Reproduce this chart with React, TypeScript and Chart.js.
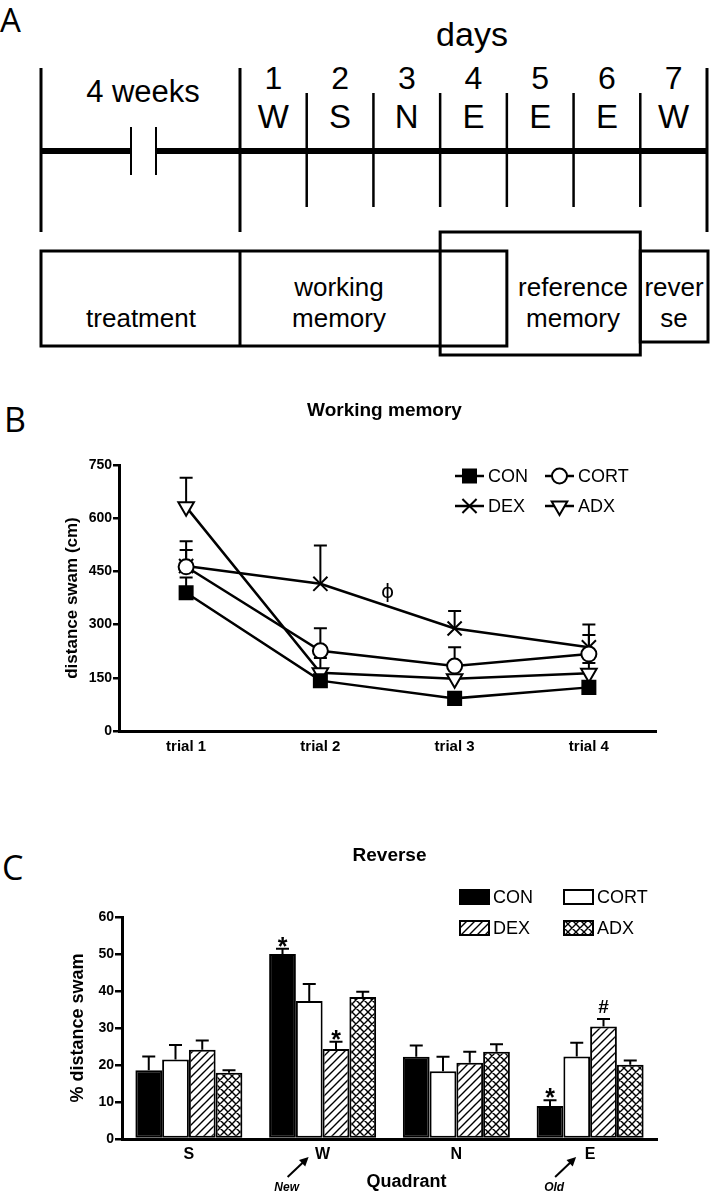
import React, { useEffect, useRef } from 'react';
import { Chart, registerables } from 'chart.js';
import { drawPoint } from 'chart.js/helpers';

Chart.register(...registerables);

// ---------- Panel A (protocol timeline) ----------
const dayNumbers = ['1', '2', '3', '4', '5', '6', '7'];
const dayQuadrants = ['W', 'S', 'N', 'E', 'E', 'E', 'W'];

// ---------- Panel B (working memory) ----------
const trials = ['trial 1', 'trial 2', 'trial 3', 'trial 4'];
const groups = ['CON', 'CORT', 'DEX', 'ADX'];
const wmCON = [390, 142, 92, 123];
const wmCONerr = [43, 12, 8, 12];
const wmCORT = [463, 226, 183, 217];
const wmCORTerr = [47, 64, 53, 54];
const wmDEX = [465, 415, 289, 236];
const wmDEXerr = [70, 108, 49, 64];
const wmADX = [632, 164, 147, 163];
const wmADXerr = [82, 42, 31, 29];
const wmYTicks = [0, 150, 300, 450, 600, 750];
const wmMarkText = ['ϕ'];
const wmMarkX = [1.5];
const wmMarkY = [389];

// ---------- Panel C (reverse) ----------
const quadrants = ['S', 'W', 'N', 'E'];
const revCON = [18.6, 50.0, 22.2, 8.9];
const revCONerr = [3.7, 1.4, 3.1, 1.6];
const revCORT = [21.5, 37.3, 18.3, 22.3];
const revCORTerr = [3.9, 4.6, 3.9, 3.7];
const revDEX = [24.1, 24.3, 20.6, 30.4];
const revDEXerr = [2.5, 2.0, 3.0, 2.0];
const revADX = [17.9, 38.4, 23.6, 20.1];
const revADXerr = [0.7, 1.4, 2.0, 1.1];
const revYTicks = [0, 10, 20, 30, 40, 50, 60];
const revMarkSeries = [0, 2, 0, 2];
const revMarkCats = [1, 1, 3, 3];
const revMarkText = ['*', '*', '*', '#'];
const revArrowText = ['', 'New', '', 'Old'];

const FONT = '"Liberation Sans", Arial, Helvetica, sans-serif';
const LETTER_FONT = '"Open Sans", "Noto Sans", sans-serif';

function makeHatch(cross: boolean): CanvasPattern {
  const s = 8;
  const c = document.createElement('canvas');
  c.width = s;
  c.height = s;
  const g = c.getContext('2d')!;
  g.fillStyle = '#fff';
  g.fillRect(0, 0, s, s);
  g.strokeStyle = '#000';
  g.lineWidth = 1.4;
  g.beginPath();
  g.moveTo(-1, s + 1);
  g.lineTo(s + 1, -1);
  g.moveTo(-1, 1);
  g.lineTo(1, -1);
  g.moveTo(s - 1, s + 1);
  g.lineTo(s + 1, s - 1);
  if (cross) {
    g.moveTo(-1, -1);
    g.lineTo(s + 1, s + 1);
    g.moveTo(s - 1, -1);
    g.lineTo(s + 1, 1);
    g.moveTo(-1, s - 1);
    g.lineTo(1, s + 1);
  }
  g.stroke();
  return g.createPattern(c, 'repeat')!;
}

const errorBarPlugin = {
  id: 'errorBars',
  beforeDatasetsDraw(chart: any, _a: any, opts: any) {
    if (opts.phase === 'before') drawErrors(chart, opts);
  },
  afterDatasetsDraw(chart: any, _a: any, opts: any) {
    if (opts.phase === 'after') drawErrors(chart, opts);
  },
};

function drawErrors(chart: any, opts: any) {
  const ctx = chart.ctx;
  const y = chart.scales.y;
  chart.data.datasets.forEach((ds: any, i: number) => {
    const errs: number[] = ds.errors;
    if (!errs) return;
    const meta = chart.getDatasetMeta(i);
    meta.data.forEach((el: any, j: number) => {
      const v = ds.data[j];
      const base = y.getPixelForValue(v);
      const top = y.getPixelForValue(v + errs[j]);
      ctx.save();
      ctx.strokeStyle = '#000';
      ctx.lineWidth = opts.width || 2;
      ctx.beginPath();
      ctx.moveTo(el.x, base);
      ctx.lineTo(el.x, top);
      ctx.moveTo(el.x - opts.cap, top);
      ctx.lineTo(el.x + opts.cap, top);
      ctx.stroke();
      ctx.restore();
    });
  });
}

const wmExtras = {
  id: 'wmExtras',
  afterDraw(chart: any) {
    const ctx = chart.ctx;
    const a = chart.chartArea;
    const xs = chart.scales.x;
    const ys = chart.scales.y;
    ctx.save();
    // title
    ctx.fillStyle = '#000';
    ctx.font = `bold 19px ${FONT}`;
    ctx.textAlign = 'center';
    ctx.textBaseline = 'alphabetic';
    ctx.fillText('Working memory', (a.left + a.right) / 2 - 3, a.top - 49);
    // phi annotation
    ctx.font = `20px "DejaVu Sans", sans-serif`;
    ctx.textBaseline = 'middle';
    wmMarkText.forEach((t, i) => {
      ctx.fillText(t, xs.getPixelForValue(wmMarkX[i]), ys.getPixelForValue(wmMarkY[i]));
    });
    // legend
    chart.data.datasets.forEach((ds: any, i: number) => {
      const col = i % 2;
      const row = Math.floor(i / 2);
      const x0 = a.right - 201 + col * 90;
      const yy = a.top + 11 + row * 30;
      ctx.strokeStyle = '#000';
      ctx.lineWidth = 2.5;
      ctx.beginPath();
      ctx.moveTo(x0, yy);
      ctx.lineTo(x0 + 29, yy);
      ctx.stroke();
      ctx.fillStyle = ds.pointBackgroundColor;
      ctx.lineWidth = 2;
      drawPoint(ctx, { pointStyle: ds.pointStyle, radius: ds.pointRadius, rotation: ds.pointRotation || 0, borderWidth: 2 } as any, x0 + 14.5, yy);
      ctx.fillStyle = '#000';
      ctx.font = `18px ${FONT}`;
      ctx.textAlign = 'left';
      ctx.textBaseline = 'middle';
      ctx.fillText(ds.label, x0 + 33, yy + 1);
    });
    ctx.restore();
  },
};

const revExtras = {
  id: 'revExtras',
  afterDraw(chart: any) {
    const ctx = chart.ctx;
    const a = chart.chartArea;
    const xs = chart.scales.x;
    const ys = chart.scales.y;
    ctx.save();
    ctx.fillStyle = '#000';
    ctx.font = `bold 19px ${FONT}`;
    ctx.textAlign = 'center';
    ctx.textBaseline = 'alphabetic';
    ctx.fillText('Reverse', (a.left + a.right) / 2, a.top - 56);
    // significance marks
    revMarkText.forEach((t, k) => {
      const ds: any = chart.data.datasets[revMarkSeries[k]];
      const el: any = chart.getDatasetMeta(revMarkSeries[k]).data[revMarkCats[k]];
      const c = revMarkCats[k];
      const topPx = ys.getPixelForValue(ds.data[c] + ds.errors[c]);
      if (t === '*') {
        ctx.font = `bold 25px ${FONT}`;
        ctx.fillText(t, el.x, topPx + 6);
      } else {
        ctx.font = `bold 19px ${FONT}`;
        ctx.fillText(t, el.x, topPx - 6);
      }
    });
    // x axis title
    ctx.font = `bold 18px ${FONT}`;
    ctx.textBaseline = 'middle';
    ctx.fillText('Quadrant', (a.left + a.right) / 2 + 17, a.bottom + 43);
    // New / Old arrows
    revArrowText.forEach((t, i) => {
      if (!t) return;
      const cx = xs.getPixelForValue(i);
      ctx.font = `italic bold 12px ${FONT}`;
      ctx.textBaseline = 'middle';
      ctx.fillText(t, cx - 36, a.bottom + 49);
      const x1 = cx - 35, y1 = a.bottom + 38, x2 = cx - 14, y2 = a.bottom + 18;
      const ang = Math.atan2(y2 - y1, x2 - x1);
      ctx.strokeStyle = '#000';
      ctx.lineWidth = 2;
      ctx.beginPath();
      ctx.moveTo(x1, y1);
      ctx.lineTo(x2 - 5 * Math.cos(ang), y2 - 5 * Math.sin(ang));
      ctx.stroke();
      ctx.beginPath();
      ctx.moveTo(x2, y2);
      ctx.lineTo(x2 - 9 * Math.cos(ang) + 4.5 * Math.sin(ang), y2 - 9 * Math.sin(ang) - 4.5 * Math.cos(ang));
      ctx.lineTo(x2 - 9 * Math.cos(ang) - 4.5 * Math.sin(ang), y2 - 9 * Math.sin(ang) + 4.5 * Math.cos(ang));
      ctx.closePath();
      ctx.fill();
    });
    // legend
    chart.data.datasets.forEach((ds: any, i: number) => {
      const col = i % 2;
      const row = Math.floor(i / 2);
      const x0 = a.right - 197 + col * 104;
      const yy = a.top - 20 + row * 31;
      ctx.fillStyle = ds.backgroundColor;
      ctx.fillRect(x0, yy - 7, 29, 14);
      ctx.strokeStyle = '#000';
      ctx.lineWidth = 2;
      ctx.strokeRect(x0, yy - 7, 29, 14);
      ctx.fillStyle = '#000';
      ctx.font = `18px ${FONT}`;
      ctx.textAlign = 'left';
      ctx.textBaseline = 'middle';
      ctx.fillText(ds.label, x0 + 33, yy + 1);
      ctx.textAlign = 'center';
    });
    ctx.restore();
  },
};

const tickFont = { family: FONT, size: 14, weight: 'bold' as const };

export default function App() {
  const bRef = useRef<HTMLCanvasElement>(null);
  const cRef = useRef<HTMLCanvasElement>(null);

  useEffect(() => {
    const pointBase = { borderColor: '#000', borderWidth: 2.5, pointBorderColor: '#000', pointBorderWidth: 2, tension: 0, fill: false };
    const wm = new Chart(bRef.current!, {
      type: 'line',
      data: {
        labels: trials,
        datasets: [
          { ...pointBase, label: groups[0], data: wmCON, errors: wmCONerr, pointStyle: 'rect', pointRadius: 9.2, pointBackgroundColor: '#000' } as any,
          { ...pointBase, label: groups[1], data: wmCORT, errors: wmCORTerr, pointStyle: 'circle', pointRadius: 7.5, pointBackgroundColor: '#fff' } as any,
          { ...pointBase, label: groups[2], data: wmDEX, errors: wmDEXerr, pointStyle: 'crossRot', pointRadius: 10, pointBackgroundColor: '#fff' } as any,
          { ...pointBase, label: groups[3], data: wmADX, errors: wmADXerr, pointStyle: 'triangle', pointRadius: 9, pointRotation: 180, pointBackgroundColor: '#fff' } as any,
        ],
      },
      options: {
        animation: false,
        responsive: false,
        maintainAspectRatio: false,
        layout: { padding: { left: 0, top: 85, right: 60, bottom: 0 } },
        plugins: {
          legend: { display: false },
          tooltip: { enabled: false },
          errorBars: { phase: 'before', cap: 6.5, width: 2 },
        } as any,
        scales: {
          x: {
            type: 'category',
            offset: true,
            grid: { display: true, drawOnChartArea: false, drawTicks: false },
            border: { display: true, color: '#000', width: 3 },
            ticks: { color: '#000', font: { family: FONT, size: 15, weight: 'bold' }, padding: 7 },
            afterFit: (s: any) => { s.height = 49; },
          },
          y: {
            min: 0,
            max: 750,
            afterBuildTicks: (s: any) => { s.ticks = wmYTicks.map((v) => ({ value: v })); },
            ticks: { color: '#000', font: tickFont, padding: 1 },
            grid: { drawOnChartArea: false, drawTicks: true, tickLength: 6, color: '#000', lineWidth: 2.5 },
            border: { display: true, color: '#000', width: 3 },
            title: { display: true, text: 'distance swam (cm)', color: '#000', font: { family: FONT, size: 17, weight: 'bold' }, padding: { top: 62, bottom: 0 } },
            afterFit: (s: any) => { s.width = 119; },
          },
        },
      } as any,
      plugins: [errorBarPlugin, wmExtras],
    });

    const hatch = makeHatch(false);
    const cross = makeHatch(true);
    const barBase = { borderColor: '#000', borderWidth: 2, borderSkipped: false, categoryPercentage: 0.8, barPercentage: 1.0 };
    const rev = new Chart(cRef.current!, {
      type: 'bar',
      data: {
        labels: quadrants,
        datasets: [
          { ...barBase, label: groups[0], data: revCON, errors: revCONerr, backgroundColor: '#000' } as any,
          { ...barBase, label: groups[1], data: revCORT, errors: revCORTerr, backgroundColor: '#fff' } as any,
          { ...barBase, label: groups[2], data: revDEX, errors: revDEXerr, backgroundColor: hatch } as any,
          { ...barBase, label: groups[3], data: revADX, errors: revADXerr, backgroundColor: cross } as any,
        ],
      },
      options: {
        animation: false,
        responsive: false,
        maintainAspectRatio: false,
        layout: { padding: { left: 0, top: 97, right: 59, bottom: 0 } },
        plugins: {
          legend: { display: false },
          tooltip: { enabled: false },
          errorBars: { phase: 'after', cap: 6.5, width: 2 },
        } as any,
        scales: {
          x: {
            grid: { display: true, drawOnChartArea: false, drawTicks: false },
            border: { display: true, color: '#000', width: 3 },
            ticks: { color: '#000', font: { family: FONT, size: 16, weight: 'bold' }, padding: 6 },
            afterFit: (s: any) => { s.height = 61; },
          },
          y: {
            min: 0,
            max: 60,
            afterBuildTicks: (s: any) => { s.ticks = revYTicks.map((v) => ({ value: v })); },
            ticks: { color: '#000', font: tickFont, padding: 1 },
            grid: { drawOnChartArea: false, drawTicks: true, tickLength: 7, color: '#000', lineWidth: 2.5 },
            border: { display: true, color: '#000', width: 3 },
            title: { display: true, text: '% distance swam', color: '#000', font: { family: FONT, size: 18, weight: 'bold' }, padding: { top: 67, bottom: 0 } },
            afterFit: (s: any) => { s.width = 122; },
          },
        },
      } as any,
      plugins: [errorBarPlugin, revExtras],
    });

    return () => {
      wm.destroy();
      rev.destroy();
    };
  }, []);

  const x0 = 240;
  const x7 = 707;
  const step = (x7 - x0) / 7;
  const dayLines = [1, 2, 3, 4, 5, 6].map((k) => x0 + k * step);

  return (
    <div style={{ position: 'absolute', left: 0, top: 0, width: 716, height: 1200, background: '#fff', overflow: 'hidden' }}>
      <svg width={716} height={1200} style={{ position: 'absolute', left: 0, top: 0 }}>
        <g stroke="#000" fill="none" strokeLinecap="butt">
          <line x1={41} y1={68} x2={41} y2={232} strokeWidth={3} />
          <line x1={x0} y1={68} x2={x0} y2={232} strokeWidth={3} />
          <line x1={x7} y1={68} x2={x7} y2={232} strokeWidth={3} />
          {dayLines.map((x, i) => (
            <line key={i} x1={x} y1={93} x2={x} y2={207} strokeWidth={2.5} />
          ))}
          <line x1={41} y1={151} x2={131} y2={151} strokeWidth={6} />
          <line x1={156} y1={151} x2={x7} y2={151} strokeWidth={6} />
          <line x1={131} y1={127} x2={131} y2={175} strokeWidth={2} />
          <line x1={156} y1={127} x2={156} y2={175} strokeWidth={2} />
          <rect x={41} y={251} width={x0 + 4 * step - 41} height={95} strokeWidth={3} />
          <line x1={x0} y1={251} x2={x0} y2={346} strokeWidth={3} />
          <rect x={x0 + 3 * step} y={232} width={3 * step} height={123} strokeWidth={3} />
          <rect x={x0 + 6 * step} y={251} width={x7 + 1 - (x0 + 6 * step)} height={91} strokeWidth={3} />
        </g>
        <g fill="#000" fontFamily={FONT} textAnchor="middle">
          <text x={472} y={46} fontSize={34}>days</text>
          <text x={143} y={102} fontSize={31}>4 weeks</text>
          {dayNumbers.map((d, i) => (
            <text key={'n' + i} x={x0 + (i + 0.5) * step} y={89} fontSize={32}>{d}</text>
          ))}
          {dayQuadrants.map((d, i) => (
            <text key={'q' + i} x={x0 + (i + 0.5) * step} y={128} fontSize={33}>{d}</text>
          ))}
          <text x={141} y={327} fontSize={26}>treatment</text>
          <text x={339} y={296} fontSize={26}>working</text>
          <text x={339} y={327} fontSize={26}>memory</text>
          <text x={573} y={296} fontSize={26}>reference</text>
          <text x={573} y={327} fontSize={26}>memory</text>
          <text x={674} y={296} fontSize={26}>rever</text>
          <text x={674} y={327} fontSize={26}>se</text>
        </g>
        <g fill="#000" fontFamily={LETTER_FONT}>
          <text x={0} y={32} fontSize={33}>A</text>
          <text x={4} y={432} fontSize={34}>B</text>
          <text x={2} y={880} fontSize={34}>C</text>
        </g>
      </svg>
      <canvas ref={bRef} width={716} height={400} style={{ position: 'absolute', left: 0, top: 380 }} />
      <canvas ref={cRef} width={716} height={380} style={{ position: 'absolute', left: 0, top: 820 }} />
    </div>
  );
}
